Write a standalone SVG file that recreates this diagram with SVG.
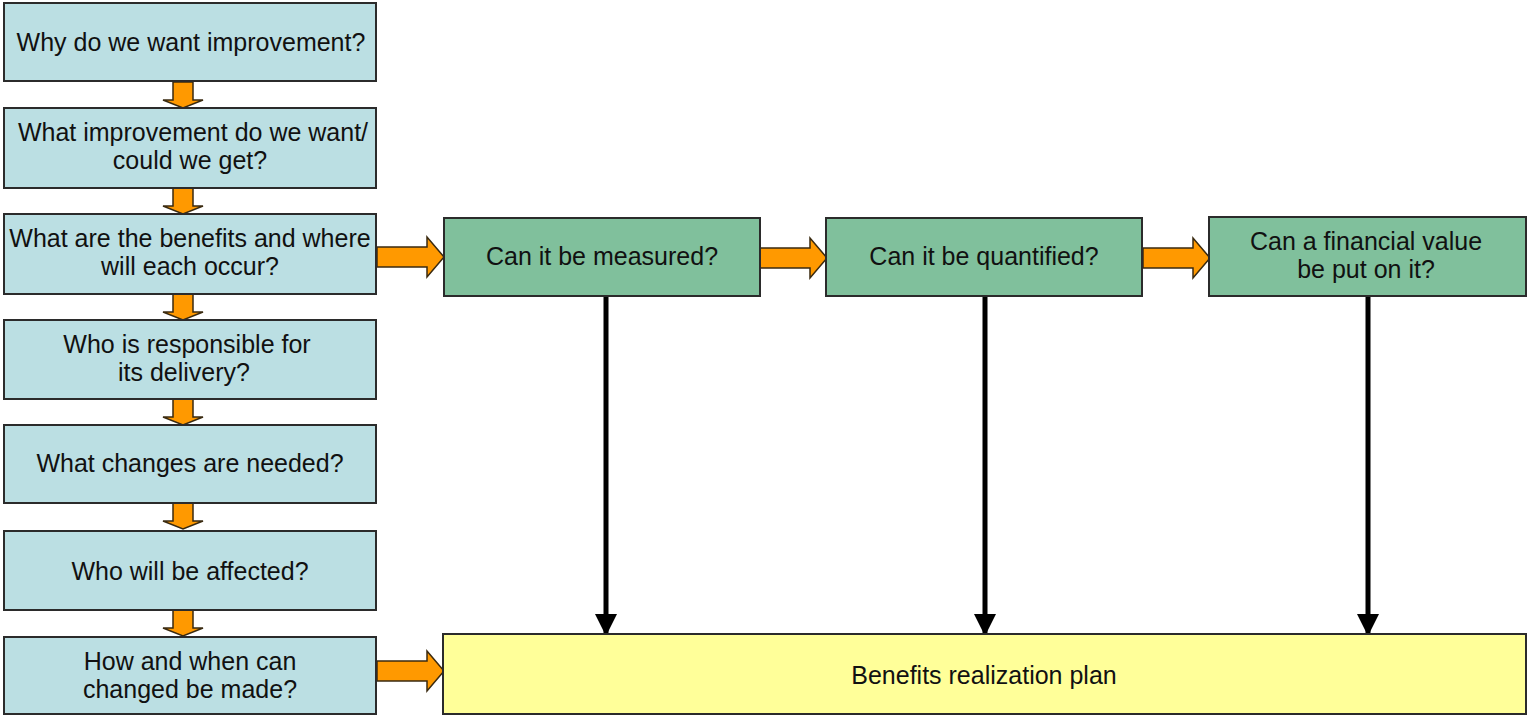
<svg xmlns="http://www.w3.org/2000/svg" width="1528" height="716" viewBox="0 0 1528 716">
  <style>
    .q { fill: #BBDFE3; stroke: #2b2b2b; stroke-width: 2; }
    .t { fill: #80C09C; stroke: #2b2b2b; stroke-width: 2; }
    .p { fill: #FFFF99; stroke: #2b2b2b; stroke-width: 2; }
    .lbl { font-family: "Liberation Sans", Arial, sans-serif; font-size: 25px; fill: #111; text-anchor: middle; }
    .flow { fill: #FF9900; stroke: #3a2a10; stroke-width: 1.5; stroke-linejoin: miter; }
    .down { stroke: #000; stroke-width: 5; fill: none; }
  </style>
  <defs>
    <!-- block arrow pointing down, origin at top centre -->
    <path id="dn" d="M-10,0 H10 V18 H20 L0,26 L-20,18 H-10 Z"/>
    <!-- block arrow pointing right, origin at left centre -->
    <path id="rt" d="M0,-10 H50 V-20 L67,0 L50,20 V10 H0 Z"/>
    <marker id="head" viewBox="0 0 10 10" refX="10" refY="5" markerWidth="4.4" markerHeight="4.4" markerUnits="strokeWidth" orient="auto">
      <path d="M0,0 L10,5 L0,10 Z" fill="#000"/>
    </marker>
  </defs>

  <!-- connectors -->
  <g id="connectors">
    <use href="#dn" class="flow" x="183" y="82"/>
    <use href="#dn" class="flow" x="183" y="188"/>
    <use href="#dn" class="flow" x="183" y="294"/>
    <use href="#dn" class="flow" x="183" y="399"/>
    <use href="#dn" class="flow" x="183" y="503"/>
    <use href="#dn" class="flow" x="183" y="610"/>
    <use href="#rt" class="flow" x="377" y="257"/>
    <use href="#rt" class="flow" x="760" y="258"/>
    <use href="#rt" class="flow" x="1143" y="258"/>
    <use href="#rt" class="flow" x="377" y="671"/>
    <line class="down" x1="606" y1="297" x2="606" y2="636" marker-end="url(#head)"/>
    <line class="down" x1="985" y1="297" x2="985" y2="636" marker-end="url(#head)"/>
    <line class="down" x1="1368" y1="297" x2="1368" y2="636" marker-end="url(#head)"/>
  </g>

  <g id="why">
    <rect class="q" x="4" y="3" width="372" height="78"/>
    <text class="lbl" x="191" y="51">Why do we want improvement?</text>
  </g>
  <g id="what-improvement">
    <rect class="q" x="4" y="108" width="372" height="80"/>
    <text class="lbl" x="193" y="141">What improvement do we want/</text>
    <text class="lbl" x="190" y="169">could we get?</text>
  </g>
  <g id="benefits">
    <rect class="q" x="4" y="214" width="372" height="80"/>
    <text class="lbl" x="190" y="247">What are the benefits and where</text>
    <text class="lbl" x="190" y="275">will each occur?</text>
  </g>
  <g id="responsible">
    <rect class="q" x="4" y="320" width="372" height="79"/>
    <text class="lbl" x="187" y="353">Who is responsible for</text>
    <text class="lbl" x="184" y="381">its delivery?</text>
  </g>
  <g id="changes">
    <rect class="q" x="4" y="425" width="372" height="78"/>
    <text class="lbl" x="190" y="472">What changes are needed?</text>
  </g>
  <g id="affected">
    <rect class="q" x="4" y="531" width="372" height="79"/>
    <text class="lbl" x="190" y="580">Who will be affected?</text>
  </g>
  <g id="how-when">
    <rect class="q" x="4" y="637" width="372" height="77"/>
    <text class="lbl" x="190" y="670">How and when can</text>
    <text class="lbl" x="190" y="698">changed be made?</text>
  </g>

  <g id="measured">
    <rect class="t" x="444" y="218" width="316" height="78"/>
    <text class="lbl" x="602" y="265">Can it be measured?</text>
  </g>
  <g id="quantified">
    <rect class="t" x="826" y="218" width="316" height="78"/>
    <text class="lbl" x="984" y="265">Can it be quantified?</text>
  </g>
  <g id="financial">
    <rect class="t" x="1209" y="217" width="317" height="79"/>
    <text class="lbl" x="1366" y="250">Can a financial value</text>
    <text class="lbl" x="1366" y="278">be put on it?</text>
  </g>

  <g id="plan">
    <rect class="p" x="443" y="634" width="1083" height="80"/>
    <text class="lbl" x="984" y="684">Benefits realization plan</text>
  </g>
</svg>
